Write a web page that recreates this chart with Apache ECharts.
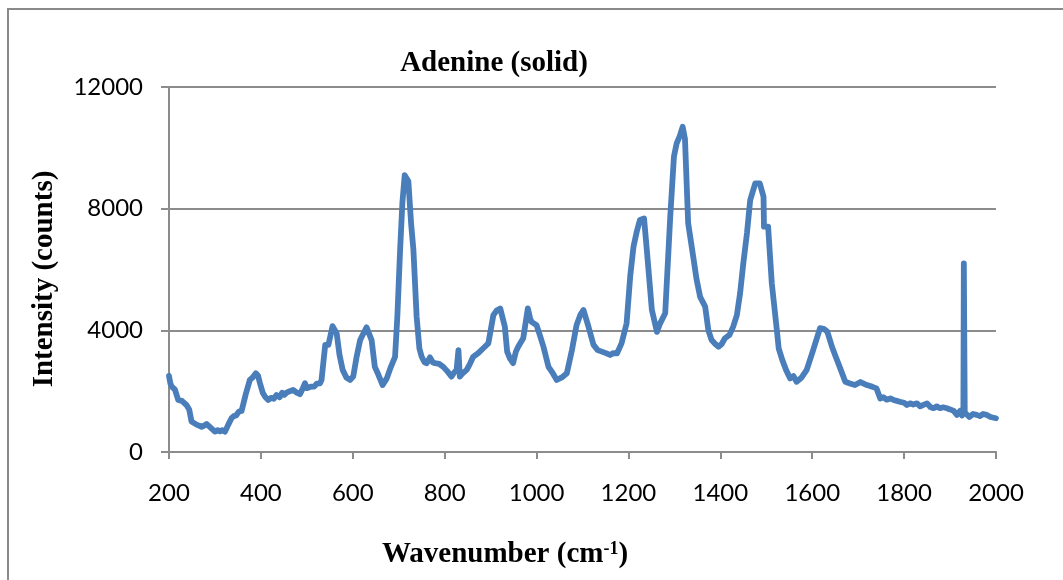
<!DOCTYPE html>
<html>
<head>
<meta charset="utf-8">
<script src="https://cdn.jsdelivr.net/npm/echarts@6/dist/echarts.min.js"></script>
<style>
html,body{margin:0;padding:0;background:#fff;}
#chart{width:1063px;height:580px;}
</style>
</head>
<body>
<div id="chart"></div>
<script>
const wavenumbers = [200,203,206,213,220,228,238,244,249,260,271,277,282,287,291,300,306,311,316,322,329,336,341,346,352,358,367,376,382,389,394,398,404,409,416,422,428,434,441,446,451,456,463,470,478,485,490,496,500,503,510,516,522,529,532,540,547,556,565,571,578,586,594,601,608,616,630,641,648,656,665,674,683,692,697,703,708,713,717,721,727,732,739,745,750,756,761,768,774,779,788,797,806,815,820,826,830,833,840,848,855,862,873,884,895,906,913,921,931,936,942,949,955,960,971,981,986,989,1000,1008,1015,1026,1035,1044,1055,1066,1077,1087,1095,1102,1113,1124,1133,1142,1151,1160,1167,1175,1185,1196,1204,1211,1218,1225,1234,1240,1251,1262,1269,1280,1291,1299,1305,1312,1318,1323,1330,1341,1348,1356,1367,1374,1381,1389,1396,1403,1410,1420,1428,1436,1443,1450,1458,1465,1476,1486,1494,1495,1504,1512,1523,1527,1535,1543,1552,1559,1566,1577,1588,1602,1617,1625,1633,1643,1652,1661,1672,1682,1693,1705,1719,1730,1740,1748,1755,1762,1770,1777,1784,1791,1800,1806,1813,1820,1828,1835,1842,1850,1857,1864,1871,1878,1885,1893,1900,1908,1915,1922,1926,1929,1930,1932,1936,1942,1950,1958,1965,1972,1980,1988,2000];
const intensity = [2500,2250,2150,2050,1710,1680,1545,1400,1000,900,830,870,920,850,800,670,720,680,720,670,900,1110,1180,1200,1330,1350,1900,2370,2450,2590,2500,2260,1950,1820,1710,1780,1750,1870,1800,1950,1880,1950,2000,2040,1950,1900,2050,2260,2100,2060,2150,2150,2250,2260,2370,3520,3520,4140,3900,3200,2700,2450,2370,2480,3100,3680,4100,3680,2800,2530,2200,2420,2800,3130,4450,6640,8200,9100,9160,8900,7500,6640,4450,3400,3130,2950,2920,3110,2950,2920,2900,2800,2650,2480,2600,2700,3350,2480,2600,2700,2900,3130,3250,3410,3570,4500,4650,4720,4120,3300,3080,2920,3300,3460,3740,4720,4400,4280,4170,3800,3460,2800,2600,2370,2450,2590,3350,4170,4500,4670,4120,3520,3350,3300,3250,3190,3250,3240,3570,4230,5800,6750,7240,7630,7680,6640,4670,3950,4230,4560,7740,9710,10150,10400,10690,10300,7520,6420,5700,5100,4780,4000,3680,3550,3460,3550,3740,3850,4120,4500,5220,6200,7200,8280,8830,8830,8390,7410,7410,5550,4010,3410,3020,2700,2420,2500,2310,2450,2700,3350,4070,4050,3950,3460,3100,2750,2310,2250,2200,2300,2200,2150,2090,1760,1800,1720,1760,1710,1680,1650,1620,1545,1600,1560,1600,1500,1550,1600,1480,1440,1500,1440,1470,1440,1400,1350,1220,1350,1200,1300,6200,1300,1270,1150,1250,1220,1180,1250,1220,1150,1110];
const xTicks = [200,400,600,800,1000,1200,1400,1600,1800,2000];
const yTicks = [0,4000,8000,12000];

const seriesData = wavenumbers.map((w,i)=>[w,intensity[i]]);
const chart = echarts.init(document.getElementById('chart'), null, {renderer:'canvas'});
const gray = '#8c8c8c';
const titleFont = {fontFamily:'Liberation Serif', fontWeight:'bold', fontSize:29, fill:'#000'};
chart.setOption({
  animation:false,
  backgroundColor:'#ffffff',
  graphic:[
    {type:'rect', shape:{x:8,y:9,width:1200,height:700},
     style:{fill:'none', stroke:'#8a8a8a', lineWidth:2}, silent:true, z:-1},
    {type:'text', x:494, y:64, silent:true,
     style:Object.assign({text:'Adenine (solid)', align:'center', verticalAlign:'middle'}, titleFont)},
    {type:'text', x:505, y:555, silent:true,
     style:Object.assign({text:'Wavenumber (cm{sup|-1})', align:'center', verticalAlign:'middle',
       rich:{sup:{fontFamily:'Liberation Serif', fontWeight:'bold', fontSize:18, fill:'#000', verticalAlign:'top', padding:[0,0,12,0]}}}, titleFont)},
    {type:'text', x:45, y:279, rotation:Math.PI/2, silent:true,
     style:Object.assign({text:'Intensity (counts)', align:'center', verticalAlign:'middle'}, titleFont)}
  ],
  grid:{left:169, right:67, top:87, bottom:128, containLabel:false},
  xAxis:{
    type:'value', min:xTicks[0], max:xTicks[xTicks.length-1], interval:200,
    axisLine:{show:true, onZero:false, lineStyle:{color:gray, width:2}},
    axisTick:{show:true, inside:false, length:7, lineStyle:{color:gray, width:2}},
    axisLabel:{margin:29, fontFamily:'Lato', fontSize:24, color:'#000', formatter:v=>String(v)},
    splitLine:{show:false}
  },
  yAxis:{
    type:'value', min:yTicks[0], max:yTicks[yTicks.length-1], interval:4000,
    axisLine:{show:true, lineStyle:{color:gray, width:2}},
    axisTick:{show:true, inside:false, length:8, lineStyle:{color:gray, width:2}},
    axisLabel:{margin:26, fontFamily:'Lato', fontSize:24, color:'#000', formatter:v=>String(v)},
    splitLine:{show:true, lineStyle:{color:gray, width:2}}
  },
  series:[{
    type:'line', data:seriesData, showSymbol:false, symbol:'none',
    lineStyle:{color:'#4a7ebb', width:5.8, join:'round', cap:'round'},
    clip:true
  }]
});
</script>
</body>
</html>
